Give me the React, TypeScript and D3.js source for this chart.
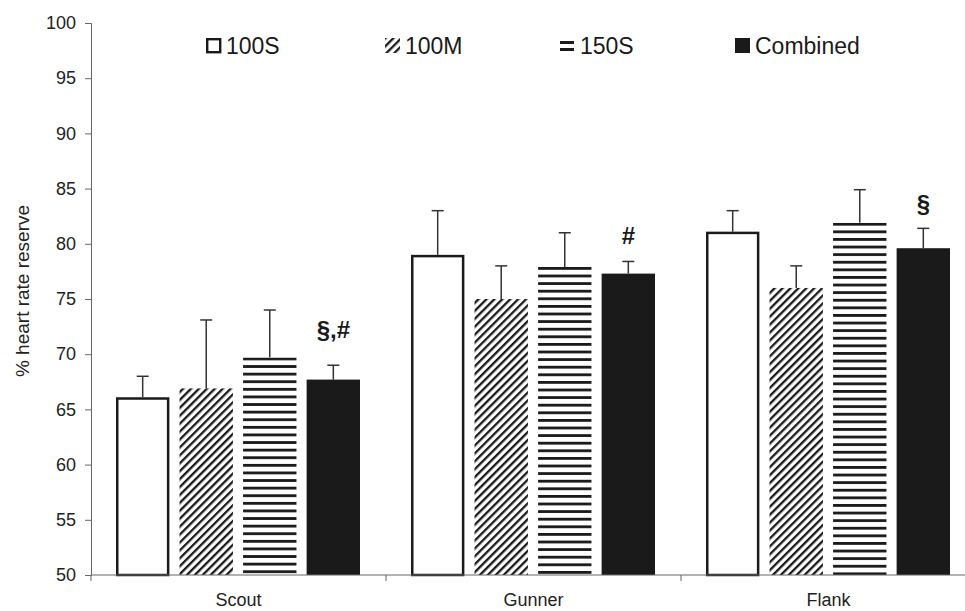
import React, { useEffect, useRef } from 'react';
import * as d3 from 'd3';

// chart data
const categories = ['Scout', 'Gunner', 'Flank'];
const seriesNames = ['100S', '100M', '150S', 'Combined'];
const means100S = [66.1, 79.0, 81.1];
const means100M = [66.9, 75.0, 76.0];
const means150S = [69.7, 77.9, 81.9];
const meansCombined = [67.7, 77.3, 79.6];
const errTop100S = [68.0, 83.0, 83.0];
const errTop100M = [73.1, 78.0, 78.0];
const errTop150S = [74.0, 81.0, 84.9];
const errTopCombined = [69.0, 78.4, 81.4];
const marks = ['§,#', '#', '§'];
const markLevel = [71.5, 80.0, 82.9];
const yTicks = [50, 55, 60, 65, 70, 75, 80, 85, 90, 95, 100];

const means = [means100S, means100M, means150S, meansCombined];
const errTops = [errTop100S, errTop100M, errTop150S, errTopCombined];

export default function App() {
  const ref = useRef<SVGSVGElement | null>(null);

  useEffect(() => {
    document.body.style.margin = '0';
    const width = 965;
    const height = 611;
    const font = 'Liberation Sans, Arial, sans-serif';

    const svg = d3.select(ref.current);
    svg.selectAll('*').remove();
    svg.attr('width', width).attr('height', height).style('display', 'block');

    // patterns
    const defs = svg.append('defs');
    const diag = defs.append('pattern')
      .attr('id', 'diag')
      .attr('patternUnits', 'userSpaceOnUse')
      .attr('width', 5.6)
      .attr('height', 5.6)
      .attr('patternTransform', 'rotate(45)');
    diag.append('rect').attr('width', 5.6).attr('height', 5.6).attr('fill', '#fff');
    diag.append('rect').attr('x', 0).attr('y', 0).attr('width', 2.3).attr('height', 5.6).attr('fill', '#1a1a1a');

    const fills = ['#fff', 'url(#diag)', 'url(#horiz)', '#1a1a1a'];

    const x = d3.scaleBand<string>().domain(categories).range([91, 976]).padding(0);
    const xs = d3.scaleBand<string>().domain(seriesNames).range([25, 269]).paddingInner(0.16).paddingOuter(0);
    const y = d3.scaleLinear().domain([50, 100]).range([575, 23]);

    // horizontal stripes, one pattern per bar so every bar starts with a dark line
    categories.forEach((c, ci) => {
      const top = y(means150S[ci]);
      const p = defs.append('pattern')
        .attr('id', `horiz${ci}`)
        .attr('patternUnits', 'userSpaceOnUse')
        .attr('y', top)
        .attr('width', 10)
        .attr('height', 7.6);
      p.append('rect').attr('width', 10).attr('height', 7.6).attr('fill', '#fff');
      p.append('rect').attr('x', 0).attr('y', 0).attr('width', 10).attr('height', 2.8).attr('fill', '#1a1a1a');
    });

    // y axis
    const yAxis = d3.axisLeft(y).tickValues(yTicks).tickSize(6).tickPadding(9).tickFormat(d3.format('d'));
    const gy = svg.append('g').attr('transform', 'translate(91,0)').call(yAxis);
    gy.select('.domain').attr('stroke', '#666');
    gy.selectAll('.tick line').attr('stroke', '#666');
    gy.selectAll('.tick text').attr('font-family', font).attr('font-size', 18).attr('fill', '#222');

    // bars
    seriesNames.forEach((s, si) => {
      const g = svg.append('g');
      categories.forEach((c, ci) => {
        const bx = (x(c) as number) + (xs(s) as number);
        const bw = xs.bandwidth();
        const cx = bx + bw / 2;
        // error bar (upwards only)
        g.append('line')
          .attr('x1', cx).attr('x2', cx)
          .attr('y1', y(means[si][ci])).attr('y2', y(errTops[si][ci]))
          .attr('stroke', '#333').attr('stroke-width', 1.5);
        g.append('line')
          .attr('x1', cx - 6).attr('x2', cx + 6)
          .attr('y1', y(errTops[si][ci])).attr('y2', y(errTops[si][ci]))
          .attr('stroke', '#333').attr('stroke-width', 1.5);
        const r = g.append('rect')
          .attr('x', bx).attr('y', y(means[si][ci]))
          .attr('width', bw).attr('height', y(50) - y(means[si][ci]))
          .attr('fill', si === 2 ? `url(#horiz${ci})` : fills[si]);
        if (si === 0) {
          r.attr('stroke', '#1a1a1a').attr('stroke-width', 2.5)
            .attr('x', bx + 1.25).attr('width', bw - 2.5)
            .attr('y', y(means[si][ci]) + 1.25).attr('height', y(50) - y(means[si][ci]) - 1.25);
        }
      });
    });

    // significance marks over Combined bars
    categories.forEach((c, ci) => {
      const cx = (x(c) as number) + (xs('Combined') as number) + xs.bandwidth() / 2;
      svg.append('text')
        .attr('x', cx).attr('y', y(markLevel[ci]))
        .attr('text-anchor', 'middle')
        .attr('font-family', font).attr('font-size', 24).attr('font-weight', 'bold')
        .attr('fill', '#1a1a1a')
        .text(marks[ci]);
    });

    // x axis
    svg.append('line')
      .attr('x1', 91).attr('x2', width).attr('y1', 575).attr('y2', 575)
      .attr('stroke', '#666');
    [91, ...categories.slice(1).map(c => x(c) as number)].forEach(t => {
      svg.append('line').attr('x1', t).attr('x2', t).attr('y1', 575).attr('y2', 581).attr('stroke', '#666');
    });
    categories.forEach(c => {
      svg.append('text')
        .attr('x', (x(c) as number) + x.bandwidth() / 2)
        .attr('y', 606)
        .attr('text-anchor', 'middle')
        .attr('font-family', font).attr('font-size', 18).attr('fill', '#222')
        .text(c);
    });

    // y label
    svg.append('text')
      .attr('transform', 'translate(29,291) rotate(-90)')
      .attr('text-anchor', 'middle')
      .attr('font-family', font).attr('font-size', 19).attr('fill', '#222')
      .text('% heart rate reserve');

    // legend
    const legX = [206, 385, 560, 735];
    seriesNames.forEach((s, si) => {
      const lg = svg.append('g').attr('transform', `translate(${legX[si]},37)`);
      if (si === 2) {
        lg.append('rect').attr('x', 0).attr('y', 4).attr('width', 14).attr('height', 3).attr('fill', '#1a1a1a');
        lg.append('rect').attr('x', 0).attr('y', 11).attr('width', 14).attr('height', 3).attr('fill', '#1a1a1a');
      } else if (si === 0) {
        lg.append('rect').attr('x', 1.2).attr('y', 2.2).attr('width', 13).attr('height', 13)
          .attr('fill', '#fff').attr('stroke', '#1a1a1a').attr('stroke-width', 2.4);
      } else {
        lg.append('rect').attr('x', 0).attr('y', 1).attr('width', 15).attr('height', 15).attr('fill', fills[si]);
      }
      lg.append('text')
        .attr('x', 20).attr('y', 17)
        .attr('font-family', font).attr('font-size', 23).attr('fill', '#1a1a1a')
        .text(s);
    });
  }, []);

  return <svg ref={ref} />;
}
